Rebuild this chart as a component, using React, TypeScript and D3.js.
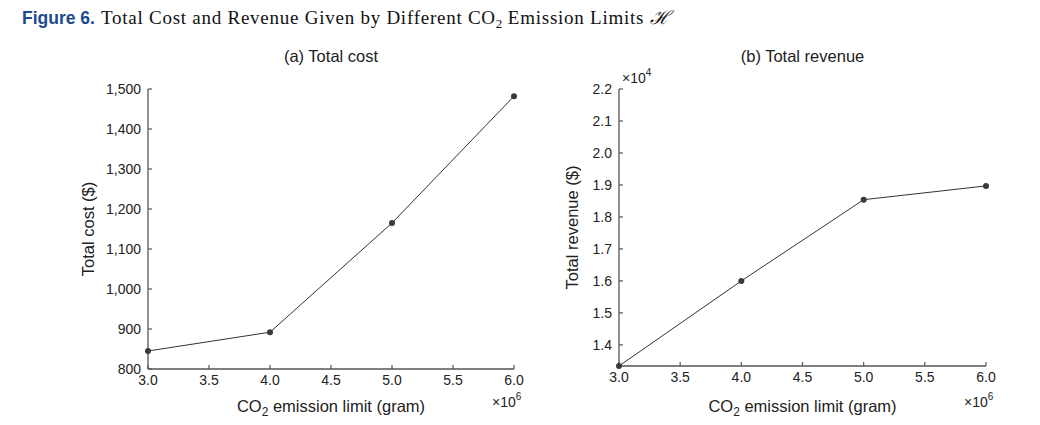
import React from "react";
import * as d3 from "d3";

const limits = [3.0, 4.0, 5.0, 6.0];
const totalCost = [845, 892, 1165, 1482];
const totalRevenue = [1.334, 1.6, 1.854, 1.897];
const xTicks = [3.0, 3.5, 4.0, 4.5, 5.0, 5.5, 6.0];
const costTicks = [800, 900, 1000, 1100, 1200, 1300, 1400, 1500];
const revTicks = [1.4, 1.5, 1.6, 1.7, 1.8, 1.9, 2.0, 2.1, 2.2];

const AX = "#555";
const SANS = "Liberation Sans, Arial, sans-serif";
const SERIF = "Liberation Serif, Times New Roman, serif";

type PanelProps = {
  x0: number; x1: number; y0: number; y1: number;
  yDomain: [number, number]; yTicks: number[]; yFmt: (v: number) => string;
  values: number[]; title: string; yLabel: string; yLabelOff: number; yExp?: boolean;
};

function Panel(p: PanelProps) {
  const x = d3.scaleLinear().domain([3, 6]).range([p.x0, p.x1]);
  const y = d3.scaleLinear().domain(p.yDomain).range([p.y0, p.y1]);
  const line = d3.line<number>().x((_, i) => x(limits[i])).y((d) => y(d));
  const cx = (p.x0 + p.x1) / 2;
  return (
    <g>
      <text x={cx} y={54} textAnchor="middle" fontFamily={SANS} fontSize={16.5} fill="#222">{p.title}</text>
      <line x1={p.x0} x2={p.x0} y1={p.y0} y2={p.y1} stroke={AX} strokeWidth={1.3} />
      <line x1={p.x0} x2={p.x1} y1={p.y0} y2={p.y0} stroke={AX} strokeWidth={1.3} />
      {xTicks.map((t) => (
        <g key={"x" + t}>
          <line x1={x(t)} x2={x(t)} y1={p.y0} y2={p.y0 - 4} stroke={AX} strokeWidth={1.2} />
          <text x={x(t)} y={p.y0 + 16} textAnchor="middle" fontFamily={SANS} fontSize={14} fill="#222">{t.toFixed(1)}</text>
        </g>
      ))}
      {p.yTicks.map((t) => (
        <g key={"y" + t}>
          <line x1={p.x0} x2={p.x0 + 4} y1={y(t)} y2={y(t)} stroke={AX} strokeWidth={1.2} />
          <text x={p.x0 - 7} y={y(t) + 5} textAnchor="end" fontFamily={SANS} fontSize={14} fill="#222">{p.yFmt(t)}</text>
        </g>
      ))}
      <path d={line(p.values) || ""} fill="none" stroke="#333" strokeWidth={1} />
      {p.values.map((v, i) => (
        <circle key={i} cx={x(limits[i])} cy={y(v)} r={3} fill="#3a3a3a" />
      ))}
      <text x={cx} y={404} textAnchor="middle" fontFamily={SANS} fontSize={16.5} fill="#222">
        CO<tspan fontSize={12} dy={4}>2</tspan><tspan dy={-4}> emission limit (gram)</tspan>
      </text>
      <text x={p.x1 - 22} y={399} fontFamily={SANS} fontSize={14} fill="#222">
        ×10<tspan fontSize={10} dy={-7}>6</tspan>
      </text>
      <text transform={`translate(${p.x0 - p.yLabelOff},${(p.y0 + p.y1) / 2}) rotate(-90)`} textAnchor="middle" fontFamily={SANS} fontSize={16.5} fill="#222">{p.yLabel}</text>
      {p.yExp && (
        <text x={p.x0 + 3} y={p.y1 - 6} fontFamily={SANS} fontSize={14} fill="#222">
          ×10<tspan fontSize={10} dy={-7}>4</tspan>
        </text>
      )}
    </g>
  );
}

export default function App() {
  return (
    <svg width={1024} height={417} style={{ display: "block", margin: 0 }}>
      <rect width={1040} height={425} fill="#fff" />
      <text x={14} y={16} fontSize={19} fill="#111">
        <tspan fontFamily={SANS} fontWeight="bold" fill="#1d4a8f" fontSize={17.5}>Figure 6.</tspan>
        <tspan fontFamily={SERIF} dx={6} letterSpacing={0.75}>Total Cost and Revenue Given by Different CO</tspan>
        <tspan fontFamily={SERIF} fontSize={13} dy={4}>2</tspan>
        <tspan fontFamily={SERIF} dy={-4} letterSpacing={0.75}> Emission Limits </tspan>
        <tspan fontFamily={SERIF} fontStyle="italic">ℋ</tspan>
      </text>
      <Panel x0={140} x1={506} y0={361} y1={81} yDomain={[800, 1500]} yTicks={costTicks}
        yFmt={d3.format(",")} values={totalCost} title="(a) Total cost" yLabel="Total cost ($)" yLabelOff={54} />
      <Panel x0={611} x1={978} y0={358} y1={81} yDomain={[1.334, 2.2]} yTicks={revTicks}
        yFmt={(v) => v.toFixed(1)} values={totalRevenue} title="(b) Total revenue" yLabel="Total revenue ($)" yLabelOff={41} yExp />
    </svg>
  );
}
